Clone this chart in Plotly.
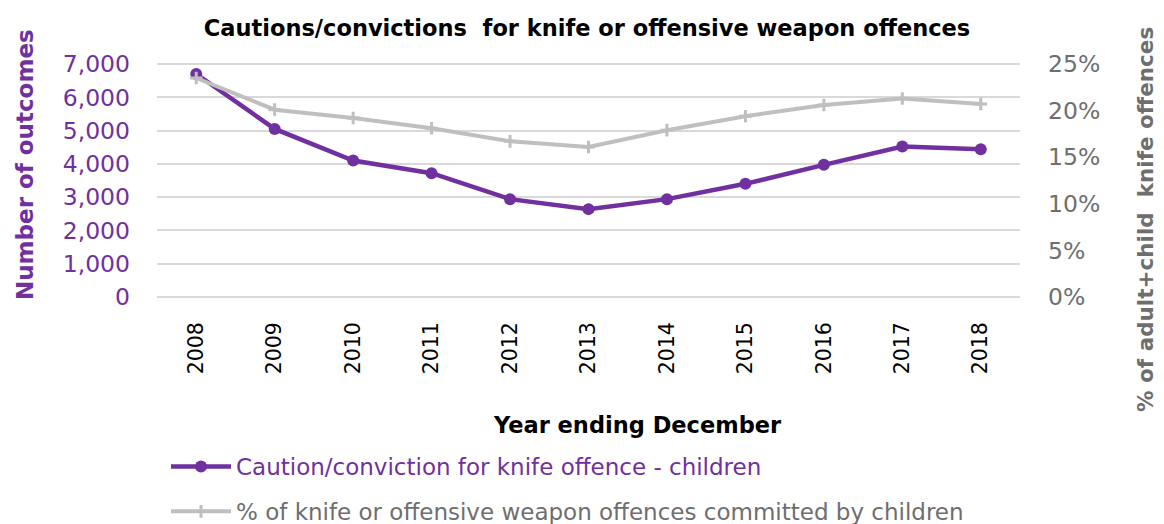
import plotly.graph_objects as go

years = ["2008", "2009", "2010", "2011", "2012", "2013", "2014", "2015", "2016", "2017", "2018"]
outcomes_children = [6700, 5050, 4100, 3720, 2940, 2640, 2940, 3400, 3970, 4520, 4440]
pct_children = [23.5, 20.1, 19.2, 18.1, 16.7, 16.1, 17.9, 19.4, 20.6, 21.3, 20.7]

left_ticks = [0, 1000, 2000, 3000, 4000, 5000, 6000, 7000]
right_ticks = [0, 5, 10, 15, 20, 25]
right_tick_labels = ["0%", "5%", "10%", "15%", "20%", "25%"]

PURPLE = "#7030A0"
GRAY = "#BFBFBF"
GRAY_TXT = "#6E6E6E"
GRID = "#D9D9D9"
FONT = "DejaVu Sans, sans-serif"

W, H = 1164, 524
ML, MR, MT, MB = 157, 144, 62, 225
PW, PH = W - ML - MR, H - MT - MB

pad_l = 60
pad_r = pad_l * 25 / 7000


def px(x):
    return (x - ML) / PW


def py(y):
    return (H - MB - y) / PH


name_purple = f"<span style='color:{PURPLE}'>Caution/conviction for knife offence - children</span>"
name_gray = f"<span style='color:{GRAY_TXT}'>% of knife or offensive weapon offences committed by children</span>"

fig = go.Figure()
fig.add_trace(go.Scatter(
    x=years, y=pct_children, mode="lines+markers",
    name=name_gray, legendgroup="b", legendrank=2,
    line=dict(color=GRAY, width=4),
    marker=dict(symbol="cross-thin", size=9, color=GRAY, line=dict(color=GRAY, width=3)),
    yaxis="y2",
))
fig.add_trace(go.Scatter(
    x=years, y=outcomes_children, mode="lines+markers",
    name=name_purple, legendgroup="a", legendrank=1,
    line=dict(color=PURPLE, width=4.5),
    marker=dict(symbol="circle", size=12, color=PURPLE),
    yaxis="y",
))

fig.update_layout(
    width=W, height=H,
    margin=dict(l=ML, r=MR, t=MT, b=MB, autoexpand=False),
    paper_bgcolor="white", plot_bgcolor="white",
    font=dict(family=FONT, size=20, color="black"),
    title=dict(text="<b>Cautions/convictions  for knife or offensive weapon offences</b>",
               x=px(587), xanchor="center", xref="paper", y=1 - 28 / H, yref="container", yanchor="middle",
               font=dict(size=22.5, color="black", family=FONT)),
    xaxis=dict(
        type="category", tickangle=-90, showgrid=False, zeroline=False,
        showline=False, ticks="", tickfont=dict(size=20.5, color="black"),
        range=[-0.5, 10.5], ticklabelstandoff=18,
    ),
    yaxis=dict(
        range=[-pad_l, 7000 + pad_l], tickvals=left_ticks, tickformat=",",
        tickfont=dict(size=23.5, color=PURPLE), showgrid=True, gridcolor=GRID,
        gridwidth=2, zeroline=True, zerolinecolor=GRID, zerolinewidth=2,
        showline=False, ticks="", ticklabelstandoff=26,
    ),
    yaxis2=dict(
        range=[-pad_r, 25 + pad_r], tickvals=right_ticks, ticktext=right_tick_labels,
        overlaying="y", side="right",
        tickfont=dict(size=23.5, color=GRAY_TXT), showgrid=False, zeroline=False,
        showline=False, ticks="", ticklabelstandoff=27,
    ),
    showlegend=True,
    legend=dict(
        x=166 / W, xref="container", y=1 - 489 / H, yref="container",
        yanchor="middle", xanchor="left", traceorder="grouped",
        orientation="v", font=dict(size=23, family=FONT),
        itemwidth=60, tracegroupgap=12, bgcolor="rgba(0,0,0,0)",
    ),
)

fig.add_annotation(text="<b>Year ending December</b>", xref="paper", yref="paper",
                   x=px(637), y=py(425), xanchor="center", yanchor="middle",
                   showarrow=False, font=dict(size=22.5, color="black"))
fig.add_annotation(text="<b>Number of outcomes</b>", xref="paper", yref="paper",
                   x=px(25), y=py(165), xanchor="center", yanchor="middle", textangle=-90,
                   showarrow=False, font=dict(size=23, color=PURPLE))
fig.add_annotation(text="<b>% of adult+child  knife offences</b>", xref="paper", yref="paper",
                   x=px(1145), y=py(220), xanchor="center", yanchor="middle", textangle=-90,
                   showarrow=False, font=dict(size=21.5, color=GRAY_TXT))

fig.write_html("out.html")
